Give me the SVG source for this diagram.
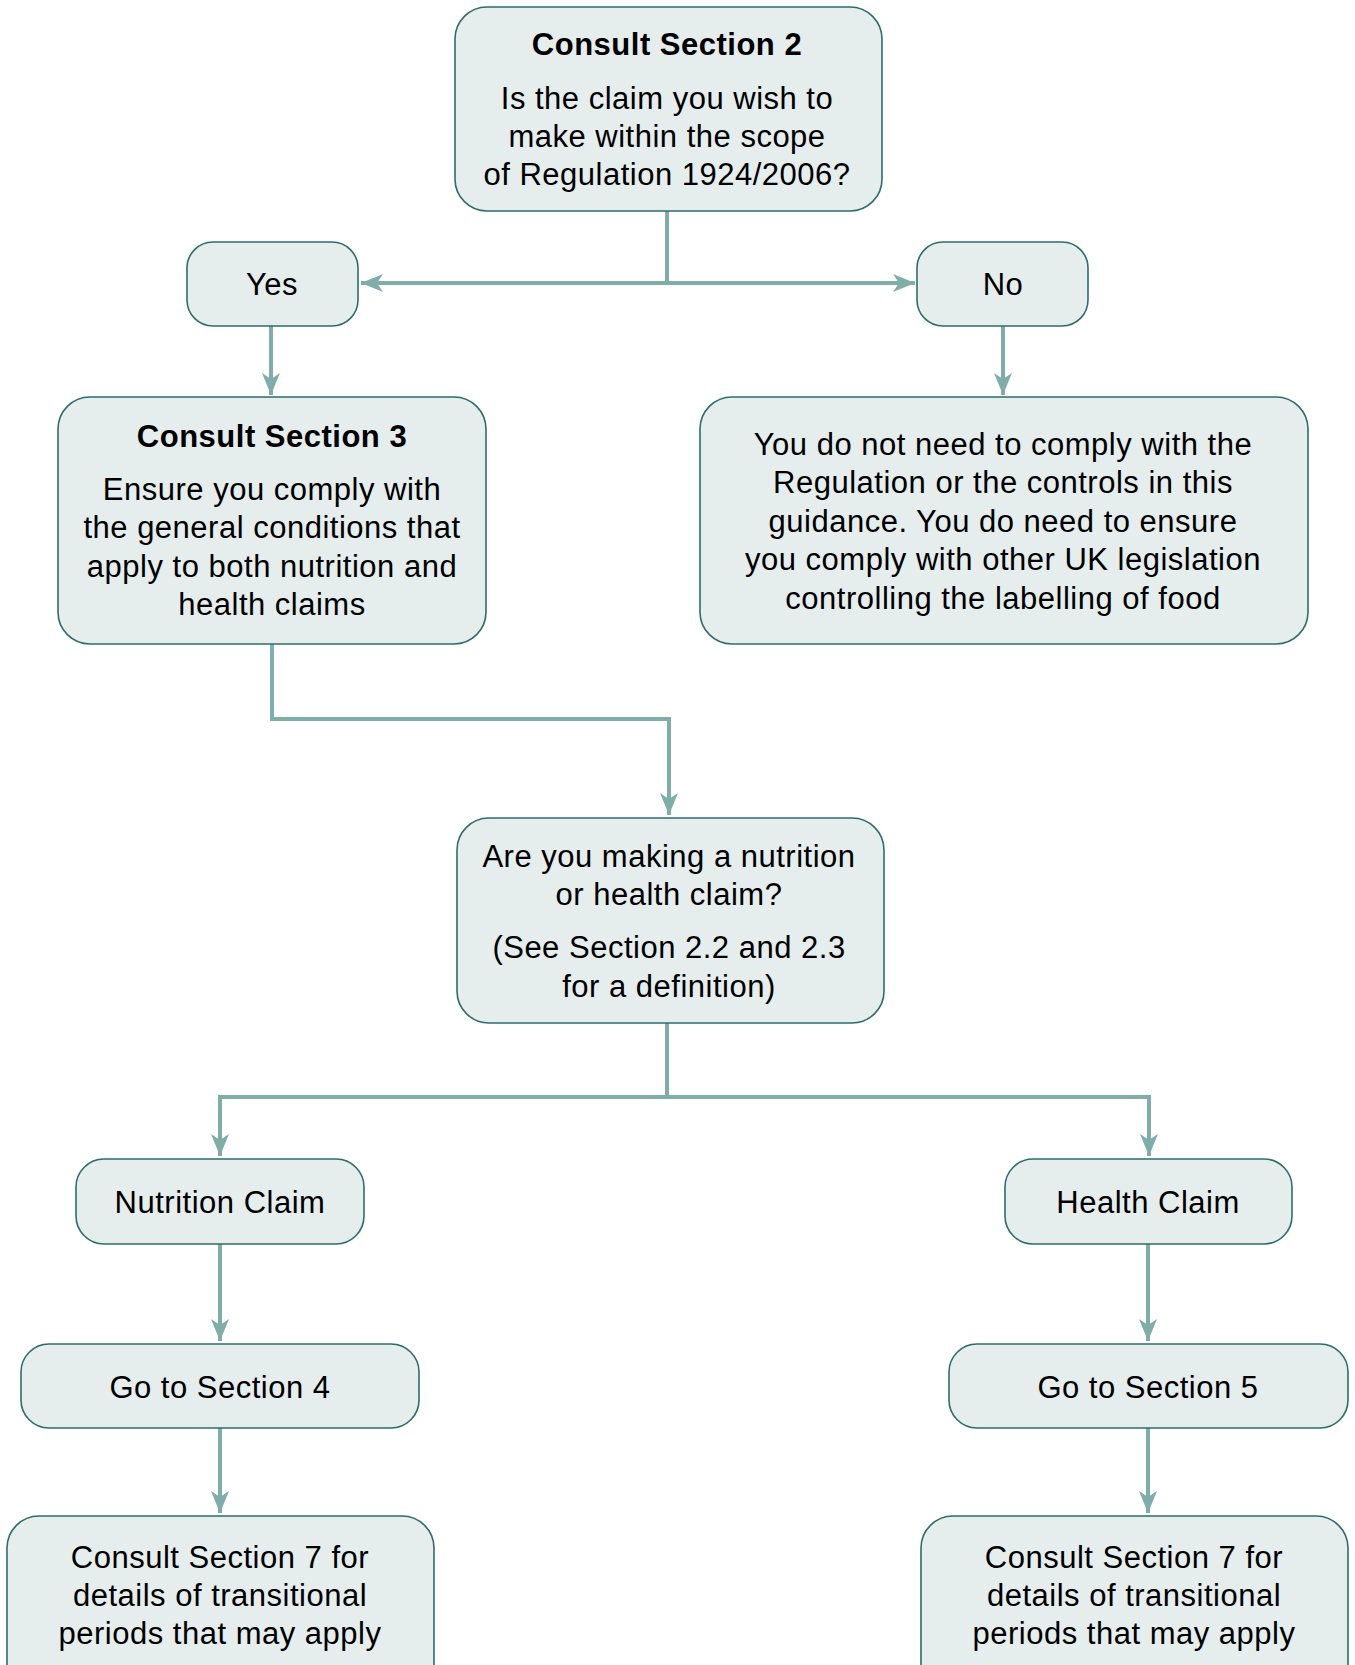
<svg xmlns="http://www.w3.org/2000/svg" width="1355" height="1665" viewBox="0 0 1355 1665">
<defs>
<style>
.box{fill:#e5eded;stroke:#2c6e68;stroke-width:1.6}
.t{font-family:"Liberation Sans",Arial,Helvetica,sans-serif;font-size:31px;letter-spacing:0.5px;fill:#000;text-anchor:middle}
.b{font-weight:bold}
.c{fill:none;stroke:#7fada8;stroke-width:4}
</style>
<marker id="ah" viewBox="0 0 22 18" refX="22" refY="9" markerWidth="22" markerHeight="18" markerUnits="userSpaceOnUse" orient="auto">
<path d="M0,0 L22,9 L0,18 L6,9 z" fill="#7fada8"/>
</marker>
</defs>
<rect width="1355" height="1665" fill="#fff"/>
<g id="connectors">
<path class="c" d="M667,211 V283"/>
<path class="c" d="M667,283 H361" marker-end="url(#ah)"/>
<path class="c" d="M667,283 H915" marker-end="url(#ah)"/>
<path class="c" d="M271,326 V395" marker-end="url(#ah)"/>
<path class="c" d="M1003,326 V395" marker-end="url(#ah)"/>
<path class="c" d="M272,644 V719 H669 V815" marker-end="url(#ah)"/>
<path class="c" d="M667,1023 V1097"/>
<path class="c" d="M667,1097 H220 V1156" marker-end="url(#ah)"/>
<path class="c" d="M667,1097 H1149 V1156" marker-end="url(#ah)"/>
<path class="c" d="M220,1244 V1341" marker-end="url(#ah)"/>
<path class="c" d="M1148,1244 V1341" marker-end="url(#ah)"/>
<path class="c" d="M220,1428 V1513" marker-end="url(#ah)"/>
<path class="c" d="M1148,1428 V1513" marker-end="url(#ah)"/>
</g>
<g id="n-section2">
<rect class="box" x="455" y="7" width="427" height="204" rx="32"/>
<text class="t b" x="667" y="55">Consult Section 2</text>
<text class="t" x="667" y="109">Is the claim you wish to</text>
<text class="t" x="667" y="147">make within the scope</text>
<text class="t" x="667" y="185">of Regulation 1924/2006?</text>
</g>
<g id="n-yes">
<rect class="box" x="187" y="242" width="171" height="84" rx="26"/>
<text class="t" x="272" y="295">Yes</text>
</g>
<g id="n-no">
<rect class="box" x="917" y="242" width="171" height="84" rx="26"/>
<text class="t" x="1003" y="295">No</text>
</g>
<g id="n-section3">
<rect class="box" x="58" y="397" width="428" height="247" rx="32"/>
<text class="t b" x="272" y="447">Consult Section 3</text>
<text class="t" x="272" y="500">Ensure you comply with</text>
<text class="t" x="272" y="538">the general conditions that</text>
<text class="t" x="272" y="577">apply to both nutrition and</text>
<text class="t" x="272" y="615">health claims</text>
</g>
<g id="n-notneed">
<rect class="box" x="700" y="397" width="608" height="247" rx="32"/>
<text class="t" x="1003" y="455">You do not need to comply with the</text>
<text class="t" x="1003" y="493">Regulation or the controls in this</text>
<text class="t" x="1003" y="532">guidance. You do need to ensure</text>
<text class="t" x="1003" y="570">you comply with other UK legislation</text>
<text class="t" x="1003" y="609">controlling the labelling of food</text>
</g>
<g id="n-question">
<rect class="box" x="457" y="818" width="427" height="205" rx="32"/>
<text class="t" x="669" y="867">Are you making a nutrition</text>
<text class="t" x="669" y="905">or health claim?</text>
<text class="t" x="669" y="958">(See Section 2.2 and 2.3</text>
<text class="t" x="669" y="997">for a definition)</text>
</g>
<g id="n-nutrition">
<rect class="box" x="76" y="1159" width="288" height="85" rx="28"/>
<text class="t" x="220" y="1213">Nutrition Claim</text>
</g>
<g id="n-health">
<rect class="box" x="1005" y="1159" width="287" height="85" rx="28"/>
<text class="t" x="1148" y="1213">Health Claim</text>
</g>
<g id="n-section4">
<rect class="box" x="21" y="1344" width="398" height="84" rx="28"/>
<text class="t" x="220" y="1398">Go to Section 4</text>
</g>
<g id="n-section5">
<rect class="box" x="949" y="1344" width="399" height="84" rx="28"/>
<text class="t" x="1148" y="1398">Go to Section 5</text>
</g>
<g id="n-section7a">
<rect class="box" x="7" y="1516" width="427" height="200" rx="32"/>
<text class="t" x="220" y="1568">Consult Section 7 for</text>
<text class="t" x="220" y="1606">details of transitional</text>
<text class="t" x="220" y="1644">periods that may apply</text>
</g>
<g id="n-section7b">
<rect class="box" x="921" y="1516" width="427" height="200" rx="32"/>
<text class="t" x="1134" y="1568">Consult Section 7 for</text>
<text class="t" x="1134" y="1606">details of transitional</text>
<text class="t" x="1134" y="1644">periods that may apply</text>
</g>
</svg>
